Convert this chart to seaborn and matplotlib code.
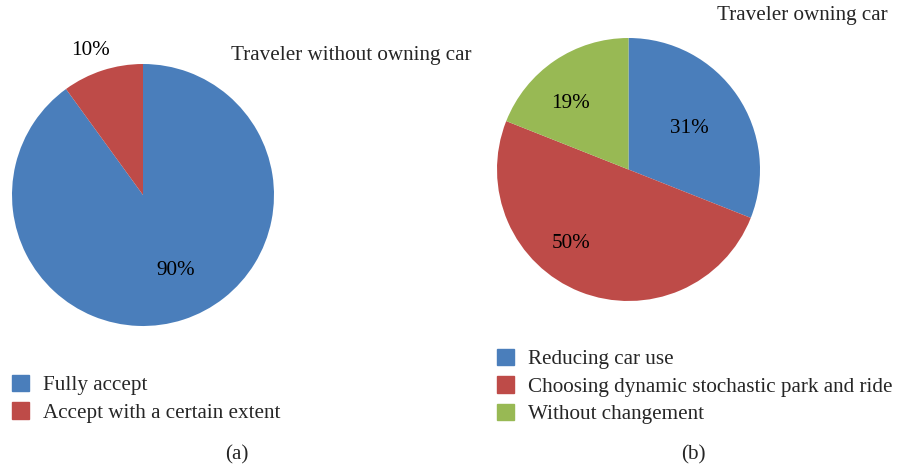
import numpy as np
import matplotlib
matplotlib.use("Agg")
import matplotlib.pyplot as plt
import seaborn as sns
from matplotlib.patches import Patch

sns.set_theme(style="white")
plt.rcParams['font.family'] = ['Liberation Serif', 'DejaVu Serif']

# Data
labels_a = ["Fully accept", "Accept with a certain extent"]
values_a = [90, 10]
title_a = "Traveler without owning car"

labels_b = ["Reducing car use", "Choosing dynamic stochastic park and ride", "Without changement"]
values_b = [31, 50, 19]
title_b = "Traveler owning car"

colors = ["#4A7EBB", "#BE4B48", "#98B954"]

W, H = 901, 468
fig = plt.figure(figsize=(W / 100, H / 100), dpi=100)
FS = 15.2


def px_axes(x0, y0, x1, y1):
    return fig.add_axes([x0 / W, 1 - y1 / H, (x1 - x0) / W, (y1 - y0) / H])


def draw_pie(ax, values, label_pos):
    wedges, _ = ax.pie(values, colors=colors[:len(values)], startangle=90,
                       counterclock=False, radius=1.0,
                       wedgeprops=dict(linewidth=0))
    for w, v, (d, off) in zip(wedges, values, label_pos):
        ang = np.deg2rad((w.theta1 + w.theta2) / 2 + off)
        ax.text(d * np.cos(ang), d * np.sin(ang), f"{v}%", ha="center",
                va="center_baseline", fontsize=FS, color="black")
    ax.set_xlim(-1, 1)
    ax.set_ylim(-1, 1)
    ax.set_aspect("equal")
    ax.axis("off")
    return wedges


# Pie (a)
ax_a = px_axes(12, 64, 274, 326)
draw_pie(ax_a, values_a, [(0.61, 6), (1.19, 1.7)])
fig.text(351 / W, 1 - 53 / H, title_a, ha="center", va="center_baseline", fontsize=FS)

# Pie (b)
ax_b = px_axes(497, 38, 760, 301)
draw_pie(ax_b, values_b, [(0.566, 1.4), (0.70, -17), (0.68, 6)])
fig.text(802 / W, 1 - 13 / H, title_b, ha="center", va="center_baseline", fontsize=FS)

# Legends
leg_kw = dict(frameon=False, fontsize=FS, handlelength=0.8, handleheight=0.8,
              handletextpad=0.65, labelspacing=0.33, borderpad=0, borderaxespad=0,
              loc="upper left")
fig.legend(handles=[Patch(color=c, label=l) for c, l in zip(colors, labels_a)],
           bbox_to_anchor=(12 / W, 1 - 375 / H), **leg_kw)
fig.legend(handles=[Patch(color=c, label=l) for c, l in zip(colors, labels_b)],
           bbox_to_anchor=(497 / W, 1 - 349 / H), **leg_kw)

fig.text(237 / W, 1 - 452 / H, "(a)", ha="center", va="center_baseline", fontsize=FS)
fig.text(693 / W, 1 - 452 / H, "(b)", ha="center", va="center_baseline", fontsize=FS)

fig.savefig("out.png", dpi=100, facecolor="white")
